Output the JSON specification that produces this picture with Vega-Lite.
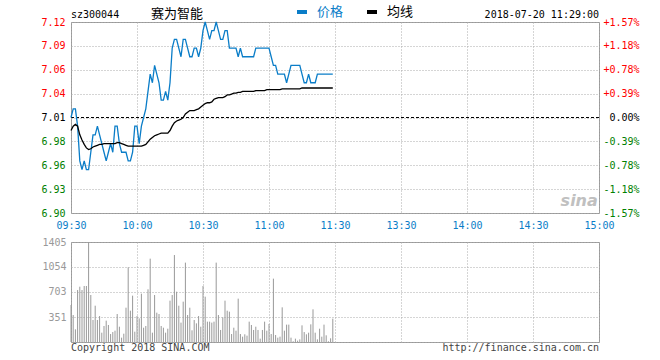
{
"$schema": "https://vega.github.io/schema/vega-lite/v6.json",
"background": "white",
"padding": {"left": 40, "top": 5, "right": 20, "bottom": 5},
"bounds": "flush",
"spacing": 29,
"config": {
  "view": {"stroke": "#999999", "strokeWidth": 1},
  "font": "DejaVu Sans Mono",
  "axis": {"labelFont": "DejaVu Sans Mono", "labelFontSize": 10, "ticks": false, "domain": false, "gridColor": "#aaaaaa", "gridDash": [1, 2], "gridWidth": 1, "title": null, "labelFlush": false, "labelOverlap": false}
},
"datasets": {"d": [
{"m":0,"价格":7.01,"均线":6.995,"vol":520},
{"m":1,"价格":7.02,"均线":7.000,"vol":379},
{"m":2,"价格":7.02,"均线":7.002,"vol":178},
{"m":3,"价格":7.00,"均线":7.000,"vol":730},
{"m":4,"价格":6.96,"均线":6.990,"vol":777},
{"m":5,"价格":6.95,"均线":6.984,"vol":730},
{"m":6,"价格":6.96,"均线":6.979,"vol":787},
{"m":7,"价格":6.95,"均线":6.975,"vol":787},
{"m":8,"价格":6.95,"均线":6.973,"vol":1400},
{"m":9,"价格":6.97,"均线":6.974,"vol":660},
{"m":10,"价格":6.99,"均线":6.976,"vol":309},
{"m":11,"价格":6.99,"均线":6.977,"vol":510},
{"m":12,"价格":7.00,"均线":6.978,"vol":309},
{"m":13,"价格":6.99,"均线":6.979,"vol":365},
{"m":14,"价格":6.98,"均线":6.979,"vol":131},
{"m":15,"价格":6.97,"均线":6.980,"vol":225},
{"m":16,"价格":6.96,"均线":6.980,"vol":300},
{"m":17,"价格":6.97,"均线":6.980,"vol":239},
{"m":18,"价格":6.98,"均线":6.980,"vol":112},
{"m":19,"价格":6.97,"均线":6.980,"vol":140},
{"m":20,"价格":7.00,"均线":6.980,"vol":159},
{"m":21,"价格":7.00,"均线":6.981,"vol":393},
{"m":22,"价格":6.98,"均线":6.981,"vol":215},
{"m":23,"价格":6.97,"均线":6.980,"vol":61},
{"m":24,"价格":6.97,"均线":6.979,"vol":117},
{"m":25,"价格":6.97,"均线":6.978,"vol":482},
{"m":26,"价格":6.96,"均线":6.977,"vol":1049},
{"m":27,"价格":6.96,"均线":6.977,"vol":440},
{"m":28,"价格":6.97,"均线":6.977,"vol":651},
{"m":29,"价格":7.00,"均线":6.977,"vol":145},
{"m":30,"价格":7.00,"均线":6.977,"vol":365},
{"m":31,"价格":6.98,"均线":6.977,"vol":332},
{"m":32,"价格":7.00,"均线":6.977,"vol":679},
{"m":33,"价格":7.01,"均线":6.978,"vol":201},
{"m":34,"价格":7.02,"均线":6.979,"vol":225},
{"m":35,"价格":7.04,"均线":6.982,"vol":740},
{"m":36,"价格":7.06,"均线":6.985,"vol":1171},
{"m":37,"价格":7.05,"均线":6.987,"vol":131},
{"m":38,"价格":7.07,"均线":6.989,"vol":660},
{"m":39,"价格":7.06,"均线":6.990,"vol":412},
{"m":40,"价格":7.05,"均线":6.991,"vol":393},
{"m":41,"价格":7.03,"均线":6.992,"vol":225},
{"m":42,"价格":7.03,"均线":6.992,"vol":201},
{"m":43,"价格":7.04,"均线":6.992,"vol":131},
{"m":44,"价格":7.03,"均线":6.992,"vol":187},
{"m":45,"价格":7.05,"均线":6.995,"vol":581},
{"m":46,"价格":7.09,"均线":7.000,"vol":660},
{"m":47,"价格":7.10,"均线":7.004,"vol":1222},
{"m":48,"价格":7.10,"均线":7.006,"vol":707},
{"m":49,"价格":7.09,"均线":7.007,"vol":510},
{"m":50,"价格":7.08,"均线":7.008,"vol":272},
{"m":51,"价格":7.10,"均线":7.010,"vol":567},
{"m":52,"价格":7.10,"均线":7.014,"vol":1115},
{"m":53,"价格":7.09,"均线":7.016,"vol":379},
{"m":54,"价格":7.08,"均线":7.018,"vol":482},
{"m":55,"价格":7.08,"均线":7.018,"vol":164},
{"m":56,"价格":7.09,"均线":7.018,"vol":309},
{"m":57,"价格":7.09,"均线":7.019,"vol":262},
{"m":58,"价格":7.08,"均线":7.020,"vol":365},
{"m":59,"价格":7.09,"均线":7.022,"vol":215},
{"m":60,"价格":7.11,"均线":7.024,"vol":787},
{"m":61,"价格":7.12,"均线":7.026,"vol":637},
{"m":62,"价格":7.11,"均线":7.027,"vol":286},
{"m":63,"价格":7.10,"均线":7.027,"vol":286},
{"m":64,"价格":7.11,"均线":7.028,"vol":272},
{"m":65,"价格":7.11,"均线":7.031,"vol":286},
{"m":66,"价格":7.12,"均线":7.032,"vol":1115},
{"m":67,"价格":7.11,"均线":7.033,"vol":379},
{"m":68,"价格":7.10,"均线":7.033,"vol":169},
{"m":69,"价格":7.10,"均线":7.033,"vol":347},
{"m":70,"价格":7.11,"均线":7.034,"vol":581},
{"m":71,"价格":7.11,"均线":7.036,"vol":440},
{"m":72,"价格":7.09,"均线":7.036,"vol":426},
{"m":73,"价格":7.09,"均线":7.037,"vol":112},
{"m":74,"价格":7.09,"均线":7.038,"vol":201},
{"m":75,"价格":7.09,"均线":7.038,"vol":159},
{"m":76,"价格":7.08,"均线":7.039,"vol":609},
{"m":77,"价格":7.09,"均线":7.039,"vol":112},
{"m":78,"价格":7.08,"均线":7.040,"vol":75},
{"m":79,"价格":7.08,"均线":7.040,"vol":108},
{"m":80,"价格":7.08,"均线":7.040,"vol":89},
{"m":81,"价格":7.08,"均线":7.040,"vol":286},
{"m":82,"价格":7.08,"均线":7.040,"vol":239},
{"m":83,"价格":7.08,"均线":7.040,"vol":169},
{"m":84,"价格":7.09,"均线":7.041,"vol":215},
{"m":85,"价格":7.09,"均线":7.041,"vol":169},
{"m":86,"价格":7.09,"均线":7.041,"vol":47},
{"m":87,"价格":7.09,"均线":7.041,"vol":169},
{"m":88,"价格":7.09,"均线":7.041,"vol":286},
{"m":89,"价格":7.09,"均线":7.042,"vol":159},
{"m":90,"价格":7.09,"均线":7.042,"vol":253},
{"m":91,"价格":7.08,"均线":7.042,"vol":112},
{"m":92,"价格":7.07,"均线":7.042,"vol":890},
{"m":93,"价格":7.07,"均线":7.042,"vol":98},
{"m":94,"价格":7.06,"均线":7.042,"vol":61},
{"m":95,"价格":7.06,"均线":7.042,"vol":75},
{"m":96,"价格":7.06,"均线":7.043,"vol":487},
{"m":97,"价格":7.06,"均线":7.043,"vol":159},
{"m":98,"价格":7.05,"均线":7.043,"vol":244},
{"m":99,"价格":7.06,"均线":7.043,"vol":244},
{"m":100,"价格":7.07,"均线":7.043,"vol":61},
{"m":101,"价格":7.07,"均线":7.043,"vol":10},
{"m":102,"价格":7.07,"均线":7.043,"vol":47},
{"m":103,"价格":7.07,"均线":7.043,"vol":19},
{"m":104,"价格":7.07,"均线":7.043,"vol":37},
{"m":105,"价格":7.06,"均线":7.044,"vol":234},
{"m":106,"价格":7.05,"均线":7.044,"vol":140},
{"m":107,"价格":7.05,"均线":7.044,"vol":108},
{"m":108,"价格":7.06,"均线":7.044,"vol":131},
{"m":109,"价格":7.05,"均线":7.044,"vol":248},
{"m":110,"价格":7.05,"均线":7.044,"vol":459},
{"m":111,"价格":7.05,"均线":7.044,"vol":131},
{"m":112,"价格":7.06,"均线":7.044,"vol":37},
{"m":113,"价格":7.06,"均线":7.044,"vol":187},
{"m":114,"价格":7.06,"均线":7.044,"vol":75},
{"m":115,"价格":7.06,"均线":7.044,"vol":244},
{"m":116,"价格":7.06,"均线":7.044,"vol":94},
{"m":117,"价格":7.06,"均线":7.044,"vol":10},
{"m":118,"价格":7.06,"均线":7.044,"vol":52},
{"m":119,"价格":7.06,"均线":7.044,"vol":328}
]},
"vconcat": [
{
  "width": 528, "height": 191,
  "resolve": {"axis": {"y": "independent"}},
  "layer": [
    {
      "data": {"name": "d"},
      "mark": {"type": "line", "opacity": 0},
      "encoding": {
        "x": {"field": "m", "type": "quantitative", "scale": {"domain": [0, 240], "nice": false, "zero": false},
              "axis": {"values": [0, 30, 60, 90, 120, 150, 180, 210, 240], "tickCount": 20, "labelExpr": "['09:30','10:00','10:30','11:00','11:30','13:30','14:00','14:30','15:00'][round(datum.value/30)]", "labelColor": "#0a7dc8", "labelPadding": 7, "grid": true}},
        "y": {"field": "价格", "type": "quantitative", "scale": {"domain": [6.90, 7.12], "nice": false, "zero": false},
              "axis": {"orient": "right", "grid": false, "tickCount": 20, "values": [6.90, 6.9275, 6.955, 6.9825, 7.01, 7.0375, 7.065, 7.0925, 7.12], "labelAlign": "right", "labelPadding": 40,
                "labelExpr": "datum.value < 6.91 ? '-1.57%' : datum.value < 6.94 ? '-1.18%' : datum.value < 6.97 ? '-0.78%' : datum.value < 6.99 ? '-0.39%' : datum.value < 7.02 ? '0.00%' : datum.value < 7.05 ? '+0.39%' : datum.value < 7.08 ? '+0.78%' : datum.value < 7.10 ? '+1.18%' : '+1.57%'",
                "labelColor": {"expr": "datum.value > 7.011 ? '#ff0000' : datum.value < 7.009 ? '#008000' : '#000000'"}}}
      }
    },
    {
      "data": {"values": [{}]},
      "mark": {"type": "rule", "color": "#000000", "strokeDash": [3, 2], "strokeWidth": 1},
      "encoding": {
        "y": {"datum": 7.01, "type": "quantitative", "scale": {"domain": [6.90, 7.12], "nice": false, "zero": false},
              "axis": {"orient": "left", "grid": true, "tickCount": 20, "values": [6.90, 6.9275, 6.955, 6.9825, 7.01, 7.0375, 7.065, 7.0925, 7.12], "labelPadding": 6,
                "labelExpr": "datum.value < 6.91 ? '6.90' : datum.value < 6.94 ? '6.93' : datum.value < 6.97 ? '6.96' : datum.value < 6.99 ? '6.98' : datum.value < 7.02 ? '7.01' : datum.value < 7.05 ? '7.04' : datum.value < 7.08 ? '7.06' : datum.value < 7.10 ? '7.09' : '7.12'",
                "labelColor": {"expr": "datum.value > 7.011 ? '#ff0000' : datum.value < 7.009 ? '#008000' : '#000000'"}}}
      }
    },
    {
      "data": {"name": "d"},
      "transform": [{"fold": ["价格", "均线"], "as": ["series", "value"]}],
      "mark": {"type": "line", "strokeWidth": 1.3},
      "encoding": {
        "x": {"field": "m", "type": "quantitative", "scale": {"domain": [0, 240], "nice": false, "zero": false}},
        "y": {"field": "value", "type": "quantitative", "scale": {"domain": [6.90, 7.12], "nice": false, "zero": false}, "axis": null},
        "color": {"field": "series", "type": "nominal", "scale": {"domain": ["价格", "均线"], "range": ["#0a7dc8", "#000000"]},
          "legend": {"orient": "none", "legendX": 224, "legendY": -17, "direction": "horizontal", "title": null, "symbolType": "stroke", "symbolStrokeWidth": 4, "symbolSize": 100, "labelFont": "Noto Sans CJK SC", "labelFontSize": 13, "labelOffset": 8, "columnPadding": 15,
            "labelColor": {"expr": "datum.value === '价格' ? '#0a7dc8' : '#000000'"}}}
      }
    },
    {
      "data": {"values": [{}]},
      "mark": {"type": "text", "text": "sz300044", "align": "left", "baseline": "alphabetic", "dy": -4, "fontSize": 10, "font": "DejaVu Sans Mono", "color": "#000000"},
      "encoding": {"x": {"datum": 0, "type": "quantitative"}, "y": {"datum": 7.12, "type": "quantitative", "axis": null}}
    },
    {
      "data": {"values": [{}]},
      "mark": {"type": "text", "text": "赛为智能", "align": "left", "baseline": "middle", "dy": -8, "fontSize": 13, "font": "Noto Sans CJK SC", "color": "#000000"},
      "encoding": {"x": {"datum": 36.4, "type": "quantitative"}, "y": {"datum": 7.12, "type": "quantitative", "axis": null}}
    },
    {
      "data": {"values": [{}]},
      "mark": {"type": "text", "text": "2018-07-20 11:29:00", "align": "right", "baseline": "alphabetic", "dy": -4, "fontSize": 10, "font": "DejaVu Sans Mono", "color": "#000000"},
      "encoding": {"x": {"datum": 240, "type": "quantitative"}, "y": {"datum": 7.12, "type": "quantitative", "axis": null}}
    },
    {
      "data": {"values": [{}]},
      "mark": {"type": "text", "text": "sina", "align": "center", "baseline": "middle", "fontSize": 16, "fontStyle": "italic", "fontWeight": "bold", "font": "DejaVu Sans", "color": "#c0c0c0"},
      "encoding": {"x": {"datum": 231, "type": "quantitative"}, "y": {"datum": 6.914, "type": "quantitative", "axis": null}}
    }
  ]
},
{
  "width": 528, "height": 100,
  "layer": [
    {
      "data": {"name": "d"},
      "mark": {"type": "rule", "color": "#999999", "strokeWidth": 1},
      "encoding": {
        "x": {"field": "m", "type": "quantitative", "scale": {"domain": [0, 240], "nice": false, "zero": false},
              "axis": {"values": [0, 30, 60, 90, 120, 150, 180, 210, 240], "tickCount": 20, "labels": false, "grid": true}},
        "y": {"field": "vol", "type": "quantitative", "scale": {"domain": [0, 1405], "nice": false, "zero": true},
              "axis": {"values": [0, 351, 703, 1054, 1405], "tickCount": 20, "grid": true, "labelPadding": 5, "labelColor": "#999999",
                "labelExpr": "datum.value < 1 ? '' : datum.value < 400 ? '351' : datum.value < 800 ? '703' : datum.value < 1100 ? '1054' : '1405'"}},
        "y2": {"datum": 0}
      }
    },
    {
      "data": {"values": [{}]},
      "mark": {"type": "text", "text": "Copyright 2018 SINA.COM", "align": "left", "baseline": "top", "dy": 1, "fontSize": 10, "font": "DejaVu Sans Mono", "color": "#444444"},
      "encoding": {"x": {"datum": 0, "type": "quantitative"}, "y": {"datum": 0, "type": "quantitative"}}
    },
    {
      "data": {"values": [{}]},
      "mark": {"type": "text", "text": "http://finance.sina.com.cn", "align": "right", "baseline": "top", "dy": 1, "fontSize": 10, "font": "DejaVu Sans Mono", "color": "#444444"},
      "encoding": {"x": {"datum": 240, "type": "quantitative"}, "y": {"datum": 0, "type": "quantitative"}}
    }
  ]
}
]
}
